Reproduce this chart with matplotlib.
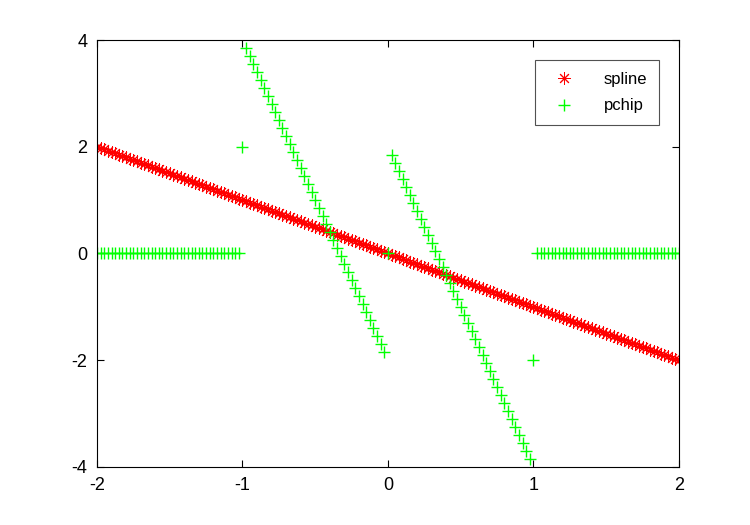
import numpy as np
import matplotlib
matplotlib.use("Agg")
import matplotlib.pyplot as plt

plt.rcParams['font.family'] = ['Liberation Sans', 'DejaVu Sans']
plt.rcParams['axes.unicode_minus'] = False

# sample grid, -2 to 2 (161 points)
x = np.linspace(-2, 2, 161)

# spline values
spline_y = [2.0, 1.975, 1.95, 1.925, 1.9, 1.875, 1.85, 1.825, 1.8, 1.775,
            1.75, 1.725, 1.7, 1.675, 1.65, 1.625, 1.6, 1.575, 1.55, 1.525,
            1.5, 1.475, 1.45, 1.425, 1.4, 1.375, 1.35, 1.325, 1.3, 1.275,
            1.25, 1.225, 1.2, 1.175, 1.15, 1.125, 1.1, 1.075, 1.05, 1.025,
            1.0, 0.975, 0.95, 0.925, 0.9, 0.875, 0.85, 0.825, 0.8, 0.775,
            0.75, 0.725, 0.7, 0.675, 0.65, 0.625, 0.6, 0.575, 0.55, 0.525,
            0.5, 0.475, 0.45, 0.425, 0.4, 0.375, 0.35, 0.325, 0.3, 0.275,
            0.25, 0.225, 0.2, 0.175, 0.15, 0.125, 0.1, 0.075, 0.05, 0.025,
            0.0,
            -0.025, -0.05, -0.075, -0.1, -0.125, -0.15, -0.175, -0.2, -0.225, -0.25,
            -0.275, -0.3, -0.325, -0.35, -0.375, -0.4, -0.425, -0.45, -0.475, -0.5,
            -0.525, -0.55, -0.575, -0.6, -0.625, -0.65, -0.675, -0.7, -0.725, -0.75,
            -0.775, -0.8, -0.825, -0.85, -0.875, -0.9, -0.925, -0.95, -0.975, -1.0,
            -1.025, -1.05, -1.075, -1.1, -1.125, -1.15, -1.175, -1.2, -1.225, -1.25,
            -1.275, -1.3, -1.325, -1.35, -1.375, -1.4, -1.425, -1.45, -1.475, -1.5,
            -1.525, -1.55, -1.575, -1.6, -1.625, -1.65, -1.675, -1.7, -1.725, -1.75,
            -1.775, -1.8, -1.825, -1.85, -1.875, -1.9, -1.925, -1.95, -1.975, -2.0]

# pchip values
pchip_left = [0.0] * 40
pchip_mid1 = [3.85, 3.70, 3.55, 3.40, 3.25, 3.10, 2.95, 2.80, 2.65, 2.50,
              2.35, 2.20, 2.05, 1.90, 1.75, 1.60, 1.45, 1.30, 1.15, 1.00,
              0.85, 0.70, 0.55, 0.40, 0.25, 0.10, -0.05, -0.20, -0.35, -0.50,
              -0.65, -0.80, -0.95, -1.10, -1.25, -1.40, -1.55, -1.70, -1.85]
pchip_mid2 = [1.85, 1.70, 1.55, 1.40, 1.25, 1.10, 0.95, 0.80, 0.65, 0.50,
              0.35, 0.20, 0.05, -0.10, -0.25, -0.40, -0.55, -0.70, -0.85, -1.00,
              -1.15, -1.30, -1.45, -1.60, -1.75, -1.90, -2.05, -2.20, -2.35, -2.50,
              -2.65, -2.80, -2.95, -3.10, -3.25, -3.40, -3.55, -3.70, -3.85]
pchip_right = [0.0] * 40
pchip_y = pchip_left + [2.0] + pchip_mid1 + [0.0] + pchip_mid2 + [-2.0] + pchip_right

fig = plt.figure(figsize=(7.5, 5.25), dpi=100)
ax = fig.add_axes([0.1293, 0.1105, 0.776, 0.8133])

ax.plot(x, spline_y, linestyle='none', marker=(8, 2, 0), color='#ff0000',
        markersize=9, markeredgewidth=0.7, label='spline')
ax.plot(x, pchip_y, linestyle='none', marker='+', color='#00ff00',
        markersize=9, markeredgewidth=1.0, label='pchip')

ax.set_xlim(-2, 2)
ax.set_ylim(-4, 4)
ax.set_xticks([-2, -1, 0, 1, 2])
ax.set_yticks([-4, -2, 0, 2, 4])
ax.tick_params(direction='in', top=True, right=True, labelsize=13, length=5,
               width=0.8, pad=7)
for s in ax.spines.values():
    s.set_linewidth(0.8)

leg = ax.legend(loc='upper right', fontsize=12, frameon=True, fancybox=False,
                edgecolor='#262626', borderaxespad=1.2, handletextpad=1.4,
                borderpad=0.7, labelspacing=0.7, handlelength=2.0)
leg.get_frame().set_linewidth(0.8)

fig.savefig('out.png', dpi=100)
